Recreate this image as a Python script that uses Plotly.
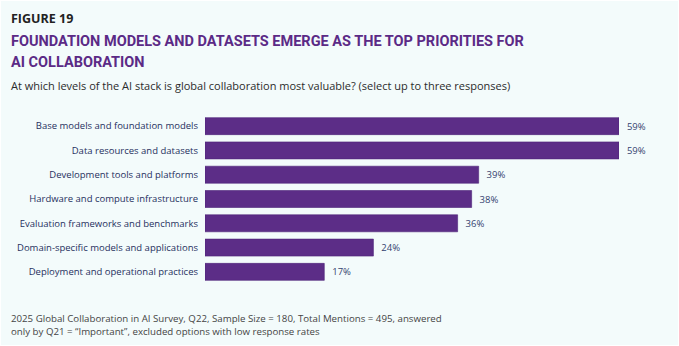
import plotly.graph_objects as go

categories = [
    "Base models and foundation models",
    "Data resources and datasets",
    "Development tools and platforms",
    "Hardware and compute infrastructure",
    "Evaluation frameworks and benchmarks",
    "Domain-specific models and applications",
    "Deployment and operational practices",
]
values = [59, 59, 39, 38, 36, 24, 17]

W, H = 679, 346
ML, MR, MT, MB = 205, 60, 114, 62
PW, PH = W - ML - MR, H - MT - MB

def px(x):
    return (x - ML) / PW

def py(y):
    return (H - MB - y) / PH

BODY = "Open Sans, Noto Sans, sans-serif"
COND = "Roboto, sans-serif"

fig = go.Figure(go.Bar(
    x=values, y=categories, orientation="h",
    marker=dict(color="#5C2D87", line=dict(color="#4E2478", width=0.6)),
    text=values, texttemplate="  %{text}%", textposition="outside",
    textfont=dict(family=BODY, size=9.5, color="#34426F"),
    cliponaxis=False, width=0.70,
))

ann = []
def add(text, x, y, size, color, family=BODY):
    ann.append(dict(text=text, x=px(x), y=py(y), xref="paper", yref="paper",
                    xanchor="left", yanchor="middle", showarrow=False,
                    font=dict(family=family, size=size, color=color)))

X0 = 9
add("<b>FIGURE 19</b>", X0, 18, 12.5, "#222222")
add("<b>FOUNDATION MODELS AND DATASETS EMERGE AS THE TOP PRIORITIES FOR</b>", X0, 41, 14.5, "#5B2A86", COND)
add("<b>AI COLLABORATION</b>", X0, 63, 14.5, "#5B2A86", COND)
add("At which levels of the AI stack is global collaboration most valuable? (select up to three responses)", X0, 86, 11, "#2B2B2B")
add("2025 Global Collaboration in AI Survey, Q22, Sample Size = 180, Total Mentions = 495, answered", X0, 318, 9.7, "#444444")
add("only by Q21 = \u201cImportant\u201d, excluded options with low response rates", X0, 331, 9.7, "#444444")

fig.update_layout(
    width=W, height=H,
    margin=dict(l=ML, r=MR, t=MT, b=MB),
    paper_bgcolor="#F3FBFB", plot_bgcolor="#F3FBFB",
    showlegend=False, annotations=ann,
    xaxis=dict(range=[0, 59], visible=False, fixedrange=True),
    yaxis=dict(autorange="reversed", showgrid=False, zeroline=False, showline=False,
               ticks="", ticklabelstandoff=6,
               tickfont=dict(family=BODY, size=9.5, color="#26305E")),
    shapes=[dict(type="rect", xref="paper", yref="paper", x0=px(0), x1=px(W), y0=py(H), y1=py(0),
                 line=dict(color="#FFFFFF", width=2), layer="above")],
)

fig.write_html("out.html")
